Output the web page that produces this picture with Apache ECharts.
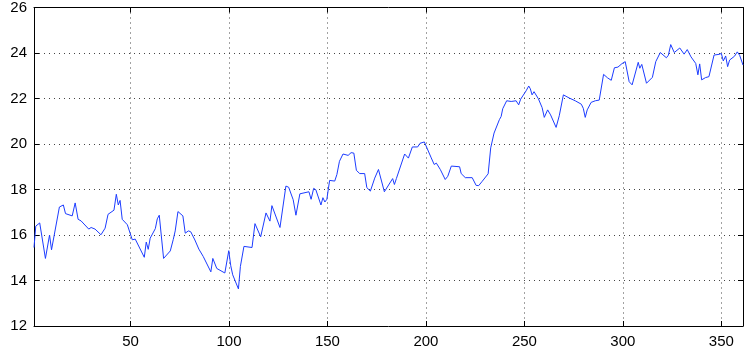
<!DOCTYPE html>
<html>
<head>
<meta charset="utf-8">
<script src="https://cdn.jsdelivr.net/npm/echarts@6/dist/echarts.min.js"></script>
<style>
html,body{margin:0;padding:0;background:#fff;}
#c{width:744px;height:355px;}
</style>
</head>
<body>
<div id="c"></div>
<script>
var xTicks = [50, 100, 150, 200, 250, 300, 350];
var yTicks = [12, 14, 16, 18, 20, 22, 24, 26];
var xs = [1,1.9,3.9,6.8,8.9,9.9,13.9,14.9,15.9,17.0,17.8,20.4,21.9,23.4,24.9,28.8,30.0,32.0,35.0,37.1,38.6,41.6,42.8,43.8,44.7,45.8,48.4,49.4,50.9,52.4,57.0,58.0,59.0,60.0,62.6,63.6,64.6,66.8,70.2,71.7,72.7,74.1,76.6,77.8,79.4,80.6,82.7,84.7,85.7,86.9,87.7,90.8,91.8,93.8,94.8,97.9,98.9,99.9,100.9,101.9,104.8,105.8,107.6,111.7,113.2,116.1,118.8,120.8,121.8,125.9,128.9,130.3,132.6,134.0,136.0,140.6,141.7,143.0,144.1,146.7,147.7,148.7,149.7,151.1,153.7,154.8,156.1,157.9,160.5,162.0,163.4,164.7,166.4,168.9,170.0,171.8,174.0,175.9,178.9,183.1,184.0,185.0,186.0,189.2,190.2,191.1,193.1,195.8,197.0,198.0,199.2,202.7,204.2,205.3,207.3,209.8,211.1,211.8,212.9,213.9,217.1,217.9,218.7,220.0,223.5,225.5,226.8,228.4,231.6,232.9,234.6,237.3,238.2,239.0,239.9,241.0,243.3,245.8,247.1,248.1,249.1,250.9,252.2,253.0,253.9,254.9,255.6,257.1,259.0,260.1,261.8,263.3,266.1,267.7,269.8,272.8,275.8,276.8,278.9,279.9,280.9,281.9,282.9,283.9,286.0,288.0,290.2,292.2,294.1,295.7,297.5,299.5,301.2,303.2,304.7,307.8,308.6,309.6,312.0,315.0,316.7,317.7,319.0,322.1,323.1,324.3,325.1,326.1,328.9,331.1,332.7,334.6,337.0,338.1,339.0,340.0,342.0,343.7,344.4,346.3,348.8,350.0,351.0,352.2,353.2,354.2,356.7,358.1,359.3,361];
var ys = [15.45,16.39,16.53,14.97,16.0,15.35,17.23,17.17,17.32,16.94,16.97,16.84,17.41,16.69,16.62,16.26,16.33,16.26,16.01,16.3,16.91,17.09,17.79,17.32,17.52,16.69,16.45,16.43,15.79,15.82,15.02,15.69,15.37,15.86,16.28,16.71,16.87,14.97,15.3,15.8,16.18,17.03,16.84,16.08,16.18,16.14,15.78,15.38,15.38,15.06,15.08,14.38,14.97,14.53,14.57,14.33,14.35,15.31,14.65,14.25,13.63,14.62,15.5,15.45,16.5,15.92,16.97,16.61,17.29,16.33,18.15,18.1,17.55,16.87,17.81,17.9,17.57,18.05,17.99,17.32,17.64,17.45,17.57,18.4,18.37,18.66,19.24,19.56,19.5,19.62,19.6,18.84,18.7,18.7,18.08,17.93,18.5,18.88,17.9,18.48,18.22,18.48,18.5,19.56,19.6,19.38,19.87,19.87,20.03,19.95,20.09,19.39,19.1,19.16,18.88,18.44,18.58,18.6,19.03,18.95,19.0,18.7,18.78,18.52,18.52,18.18,18.17,18.34,18.69,19.83,20.48,21.07,21.21,21.55,21.5,21.9,21.87,21.9,21.72,21.97,22.0,22.34,22.55,22.43,22.16,22.3,22.2,21.99,21.6,21.17,21.5,21.28,20.73,21.24,22.16,22.02,21.9,21.97,21.75,21.57,21.17,21.5,21.47,21.83,21.9,21.93,23.06,22.91,22.8,23.35,23.38,23.53,23.62,22.74,22.6,23.59,23.33,23.5,22.67,22.93,23.62,23.68,24.02,23.79,23.9,24.37,24.34,24.02,24.22,23.95,24.15,23.83,23.54,23.04,23.52,22.82,22.92,22.96,22.92,23.91,23.94,23.98,23.65,23.87,23.4,23.69,23.86,24.05,23.9,23.47];

var pts = xs.map(function (x, i) { return [x, ys[i]]; });
var font = 'Liberation Sans, Arial, Helvetica, sans-serif';
var gridLine = { show: true, lineStyle: { color: '#444', type: [1, 4], width: 1 } };

function xAx(pos, showLabel) {
  return {
    type: 'value', position: pos, min: 1, max: 361,
    axisLine: { show: true, onZero: false, lineStyle: { color: '#000', width: 1 } },
    axisTick: { show: true, inside: true, length: 5, customValues: xTicks, lineStyle: { color: '#000' } },
    axisLabel: { show: showLabel, customValues: xTicks, color: '#000', fontSize: 15, fontFamily: font, margin: 8 },
    splitLine: showLabel ? gridLine : { show: false }
  };
}
function yAx(pos, showLabel) {
  return {
    type: 'value', position: pos, min: 12, max: 26, interval: 2,
    axisLine: { show: true, onZero: false, lineStyle: { color: '#000', width: 1 } },
    axisTick: { show: true, inside: true, length: 5, lineStyle: { color: '#000' } },
    axisLabel: { show: showLabel, color: '#000', fontSize: 15, fontFamily: font, margin: 7 },
    splitLine: showLabel ? gridLine : { show: false }
  };
}

var chart = echarts.init(document.getElementById('c'), null, { renderer: 'canvas' });
chart.setOption({
  animation: false,
  backgroundColor: '#fff',
  grid: { left: 34, right: 1, top: 6, bottom: 29, containLabel: false },
  xAxis: [xAx('bottom', true), xAx('top', false)],
  yAxis: [yAx('left', true), yAx('right', false)],
  series: [{
    type: 'line', data: pts, xAxisIndex: 0, yAxisIndex: 0,
    showSymbol: false, symbol: 'none',
    lineStyle: { color: '#1c3cff', width: 1 },
    clip: true
  }]
});
</script>
</body>
</html>
